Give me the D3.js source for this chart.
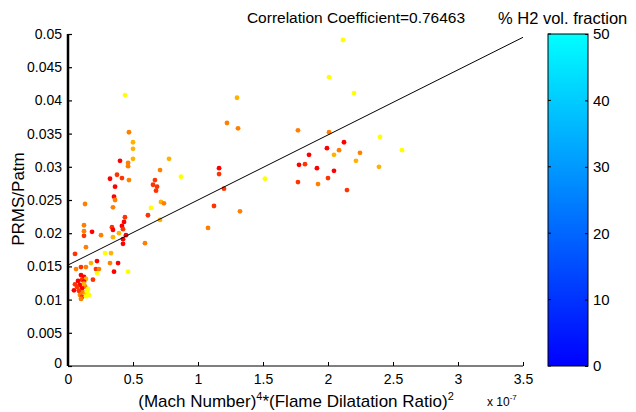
<!DOCTYPE html>
<html>
<head>
<meta charset="utf-8">
<script src="https://cdn.jsdelivr.net/npm/d3@7"></script>
<style>
  body { margin: 0; background: #fff; }
  svg { font-family: "Liberation Sans", Arial, sans-serif; }
  .axis path, .axis line { stroke: #000; }
  .axis text { font-size: 14px; fill: #000; }
</style>
</head>
<body>
<div id="chart"></div>
<script>
// values, x in units of 1e-7
let xVals = [
  2.115, 2.008, 2.200, 1.769, 2.008, 2.400, 2.123, 1.992, 2.085, 2.046,
  2.246, 2.569, 1.854, 1.777, 1.823, 1.915, 2.215, 2.046, 2.392, 1.769,
  1.923, 2.000, 2.146,
  1.300, 1.223, 1.308, 1.162, 1.162, 1.200, 1.515, 1.123, 1.323, 1.077,
  0.438, 0.469, 0.500, 0.500, 0.500, 0.400, 0.462, 0.462, 0.777, 0.708,
  0.869, 0.323, 0.377, 0.415, 0.469, 0.362, 0.669, 0.654, 0.685, 0.677,
  0.715, 0.738, 0.131, 0.354, 0.362, 0.346, 0.638, 0.615, 0.708, 0.438,
  0.431, 0.415, 0.123, 0.123, 0.123, 0.185, 0.254, 0.338, 0.346, 0.423,
  0.346, 0.392, 0.446, 0.423, 0.423, 0.592, 0.138, 0.054, 0.331, 0.285,
  0.223, 0.323, 0.385, 0.177, 0.100, 0.138, 0.062, 0.215, 0.238, 0.223,
  0.354, 0.462, 0.192,
  0.100, 0.123, 0.138, 0.108, 0.123, 0.054, 0.092, 0.131, 0.108, 0.154,
  0.046, 0.085, 0.115, 0.138, 0.162, 0.092, 0.108, 0.138, 0.100, 0.123,
  0.077, 0.146, 0.070
];
let yVals = [
  0.0491, 0.0435, 0.0411, 0.0355, 0.0352, 0.0345, 0.0337, 0.0328, 0.0325, 0.0318,
  0.0321, 0.0325, 0.0318, 0.0303, 0.0304, 0.0298, 0.0309, 0.0294, 0.0300, 0.0277,
  0.0274, 0.0283, 0.0265,
  0.0404, 0.0366, 0.0358, 0.0298, 0.0289, 0.0267, 0.0282, 0.0241, 0.0233, 0.0208,
  0.0408, 0.0352, 0.0337, 0.0327, 0.0312, 0.0309, 0.0306, 0.0301, 0.0312, 0.0295,
  0.0285, 0.0282, 0.0288, 0.0283, 0.0280, 0.0270, 0.0280, 0.0273, 0.0270, 0.0264,
  0.0247, 0.0245, 0.0244, 0.0255, 0.0250, 0.0239, 0.0238, 0.0227, 0.0220, 0.0224,
  0.0217, 0.0211, 0.0212, 0.0203, 0.0196, 0.0202, 0.0197, 0.0209, 0.0205, 0.0206,
  0.0194, 0.0200, 0.0197, 0.0191, 0.0184, 0.0185, 0.0179, 0.0169, 0.0170, 0.0170,
  0.0158, 0.0155, 0.0155, 0.0155, 0.0149, 0.0149, 0.0146, 0.0146, 0.0146, 0.0140,
  0.0142, 0.0142, 0.0130,
  0.0137, 0.0134, 0.0131, 0.0130, 0.0127, 0.0123, 0.0122, 0.0120, 0.0117, 0.0116,
  0.0114, 0.0113, 0.0111, 0.0110, 0.0107, 0.0107, 0.0104, 0.0105, 0.0101, 0.0124,
  0.0128, 0.0112, 0.0119
];
// colour value of each point (0 red .. 50 yellow)
let h2Vals = [
  50, 50, 50, 25, 25, 50, 0, 0, 25, 35,
  25, 50, 0, 0, 10, 0, 35, 0, 35, 10,
  25, 10, 10,
  35, 25, 25, 0, 10, 10, 50, 10, 25, 25,
  50, 25, 35, 35, 35, 0, 25, 25, 35, 25,
  50, 0, 10, 10, 25, 0, 10, 10, 10, 10,
  35, 25, 25, 0, 25, 25, 50, 10, 35, 10,
  0, 0, 25, 25, 10, 0, 25, 10, 0, 10,
  35, 35, 0, 0, 0, 25, 25, 10, 35, 50,
  0, 25, 0, 35, 10, 25, 25, 10, 25, 50,
  0, 50, 10,
  0, 0, 35, 10, 0, 10, 0, 25, 0, 50,
  0, 10, 25, 35, 50, 25, 10, 50, 25, 35,
  0, 50, 10
];

let xTicks = [0, 0.5, 1, 1.5, 2, 2.5, 3, 3.5];
let yTicks = [0, 0.005, 0.01, 0.015, 0.02, 0.025, 0.03, 0.035, 0.04, 0.045, 0.05];
let cbTicks = [0, 10, 20, 30, 40, 50];

// fit line
let fitIntercept = 0.0152;
let fitSlope = 0.0098;
let corrCoef = "0.76463";

let W = 636, H = 412;
let margin = {top: 34, left: 68, bottom: 46, right: 113};
let width = W - margin.left - margin.right;
let height = H - margin.top - margin.bottom;

let svg = d3.select("#chart").append("svg")
    .attr("width", W)
    .attr("height", H);

let g = svg.append("g")
    .attr("transform", `translate(${margin.left}, ${margin.top})`);

let xScale = d3.scaleLinear().domain([0, 3.5]).range([0, width]);
let yScale = d3.scaleLinear().domain([0, 0.05]).range([height, 0]);

let pointColor = d3.scaleLinear().domain([0, 50]).range(["#ff0000", "#ffff00"]);

// x axis, ticks inward
let xAxis = d3.axisBottom(xScale).tickValues(xTicks).tickSize(-4).tickPadding(8)
    .tickFormat(d3.format("~g"));
let gx = g.append("g").attr("class", "axis")
    .attr("transform", `translate(0, ${height})`)
    .call(xAxis);
gx.select(".domain").attr("d", `M0,0H${width}`);

let yAxis = d3.axisLeft(yScale).tickValues(yTicks).tickSize(-4).tickPadding(6)
    .tickFormat(d3.format("~g"));
let gy = g.append("g").attr("class", "axis").call(yAxis);
gy.select(".domain").attr("d", `M0,0V${height}`)
    .attr("stroke", "#888").attr("stroke-width", 2.5);
gy.selectAll(".tick line").attr("stroke-width", 1.2);
gy.selectAll(".tick").filter(d => d === 0).select("text").attr("dy", "0.1em");

// scatter
let pts = xVals.map((x, i) => ({x: x, y: yVals[i], c: h2Vals[i]}));
g.selectAll(".dot")
    .data(pts)
  .enter().append("circle")
    .attr("class", "dot")
    .attr("cx", d => xScale(d.x))
    .attr("cy", d => yScale(d.y))
    .attr("r", 2.4)
    .attr("fill", d => pointColor(d.c));

// regression line
g.append("line")
    .attr("x1", xScale(0)).attr("y1", yScale(fitIntercept))
    .attr("x2", xScale(3.5)).attr("y2", yScale(fitIntercept + fitSlope * 3.5))
    .attr("stroke", "#000").attr("stroke-width", 1);

// title
svg.append("text")
    .attr("x", 356).attr("y", 23)
    .attr("text-anchor", "middle")
    .attr("font-size", 15.5)
    .text("Correlation Coefficient=" + corrCoef);

// axis labels
let xl = svg.append("text")
    .attr("x", 296).attr("y", 407)
    .attr("text-anchor", "middle")
    .attr("font-size", 17);
xl.append("tspan").text("(Mach Number)");
xl.append("tspan").attr("font-size", 11).attr("dy", -7).text("4");
xl.append("tspan").attr("dy", 7).text("*(Flame Dilatation Ratio)");
xl.append("tspan").attr("font-size", 11).attr("dy", -7).text("2");

let ex = svg.append("text")
    .attr("x", 487).attr("y", 406)
    .attr("font-size", 12);
ex.append("tspan").text("x 10");
ex.append("tspan").attr("font-size", 8).attr("dy", -6).text("-7");

svg.append("text")
    .attr("transform", `translate(24, ${margin.top + height / 2 - 1}) rotate(-90)`)
    .attr("text-anchor", "middle")
    .attr("font-size", 17)
    .text("PRMS/Patm");

// colorbar
let cbX = 548, cbW = 40;
let cbScale = d3.scaleLinear().domain([0, 50]).range([margin.top + height, margin.top]);

let defs = svg.append("defs");
let grad = defs.append("linearGradient")
    .attr("id", "cbGrad")
    .attr("x1", 0).attr("y1", 1).attr("x2", 0).attr("y2", 0);
grad.append("stop").attr("offset", "0%").attr("stop-color", "#0000ff");
grad.append("stop").attr("offset", "100%").attr("stop-color", "#00ffff");

svg.append("rect")
    .attr("x", cbX).attr("y", cbScale(50))
    .attr("width", cbW).attr("height", cbScale(0) - cbScale(50))
    .attr("fill", "url(#cbGrad)")
    .attr("stroke", "#000").attr("stroke-width", 1);

let cbAxis = d3.axisRight(cbScale).tickValues(cbTicks).tickSize(-3).tickPadding(5);
let gcb = svg.append("g").attr("class", "axis")
    .attr("transform", `translate(${cbX + cbW}, 0)`)
    .call(cbAxis);
gcb.select(".domain").remove();
gcb.selectAll("text").style("font-size", "15px");

// left side ticks of the colorbar
svg.append("g")
    .selectAll("line")
    .data(cbTicks)
  .enter().append("line")
    .attr("x1", cbX).attr("x2", cbX + 3)
    .attr("y1", d => cbScale(d)).attr("y2", d => cbScale(d))
    .attr("stroke", "#000");

svg.append("text")
    .attr("x", 498).attr("y", 24)
    .attr("font-size", 16.5)
    .text("% H2 vol. fraction");
</script>
</body>
</html>
